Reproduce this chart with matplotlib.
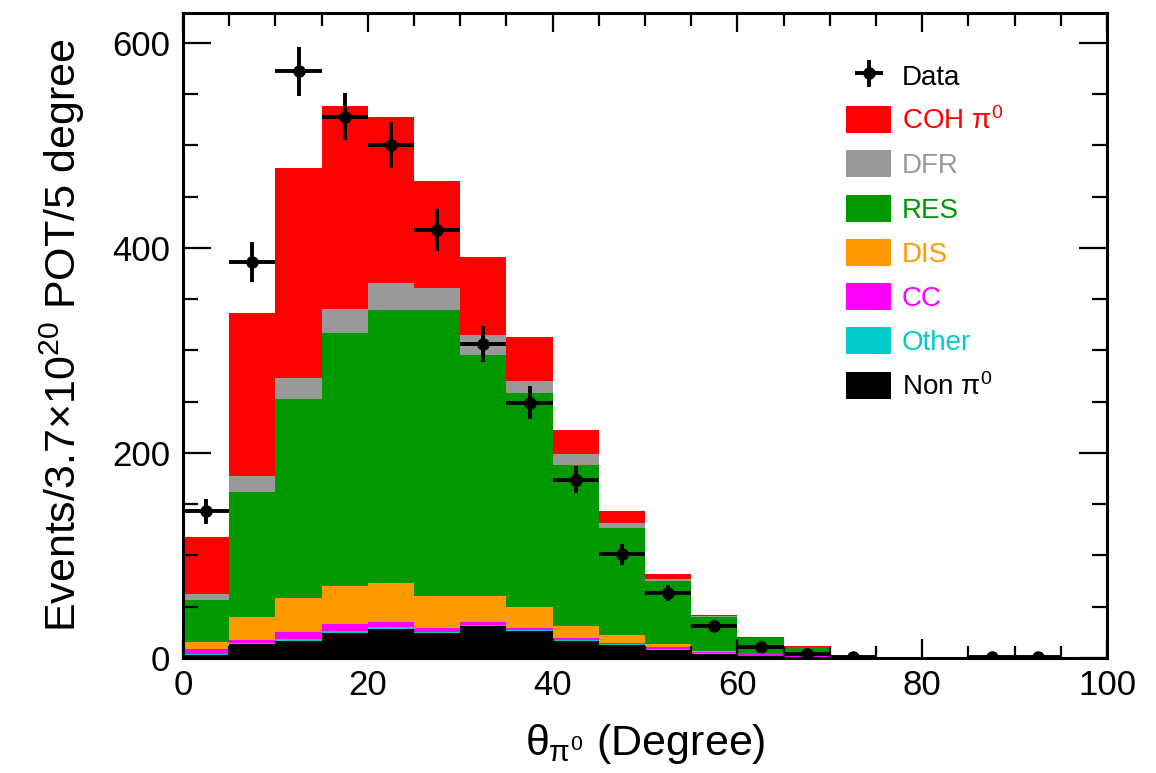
import numpy as np
import matplotlib
matplotlib.use("Agg")
import matplotlib.pyplot as plt
from matplotlib.patches import Patch

plt.rcParams['font.family'] = ['Liberation Sans', 'DejaVu Sans']
plt.rcParams['mathtext.fontset'] = 'custom'
plt.rcParams['mathtext.rm'] = 'Liberation Sans'
plt.rcParams['mathtext.it'] = 'Liberation Sans'
plt.rcParams['mathtext.bf'] = 'Liberation Sans:bold'

# 5-degree bins from 0 to 100
bin_edges = np.arange(0, 105, 5)
bin_centers = bin_edges[:-1] + 2.5

# MC components, bottom of the stack first
non_pi0 = [3, 14, 17, 24, 28, 24, 31, 26, 17, 13, 8, 4, 2, 1, 0.2, 0, 0, 0, 0, 0]
other = [0.5, 1, 2, 2, 2, 1, 1, 1, 0.5, 0.5, 0.5, 0.5, 0.3, 0.2, 0.1, 0, 0, 0, 0, 0]
cc = [5.5, 3, 6.5, 7, 5, 4, 3, 2.5, 1.7, 1.5, 2.5, 1.5, 2.2, 0.8, 0.1, 0, 0, 0, 0, 0]
dis = [7, 22.3, 32.7, 37.2, 37.9, 31.5, 25.5, 19.9, 12.3, 7.4, 2.7, 1.2, 0.5, 0.5, 0.1, 0, 0, 0, 0, 0]
res = [41, 121.3, 194.5, 246.6, 266.6, 279, 235.1, 209.4, 156.8, 104.1, 61.3, 32.5, 14.2, 8.5, 0.3, 0, 0, 0, 0, 0]
dfr = [5, 15.4, 20.8, 23.2, 26, 21.2, 19.4, 11.8, 10.4, 4.9, 1.7, 0.8, 0.3, 0.2, 0.05, 0, 0, 0, 0, 0]
coh = [56, 159.6, 204.2, 198.5, 162.5, 104, 76.5, 42.3, 23.7, 12, 4.9, 1.5, 0.5, 0.3, 0.05, 0, 0, 0, 0, 0]

data = [143, 386, 572, 528, 500, 417, 306, 249, 174, 101, 63, 31, 11, 4, 1, 0, 0, 1, 1, 0]
data_err = [12, 19.6, 23.9, 23, 22.4, 20.4, 17.5, 15.8, 13.2, 10, 7.9, 5.6, 3.3, 2, 1, 0, 0, 1, 1, 0]

components = [
    (non_pi0, 'black', r'Non $\pi^0$'),
    (other, '#00cccc', 'Other'),
    (cc, '#ff00ff', 'CC'),
    (dis, '#ff9900', 'DIS'),
    (res, '#009900', 'RES'),
    (dfr, '#999999', 'DFR'),
    (coh, '#ff0000', r'COH $\pi^0$'),
]

fig = plt.figure(figsize=(11.56, 7.73), dpi=100)
ax = fig.add_axes([183 / 1156, 1 - 658 / 773, 924 / 1156, 645 / 773])

bottom = np.zeros(len(bin_centers))
handles = {}
for vals, color, label in components:
    vals = np.array(vals, dtype=float)
    ax.bar(bin_edges[:-1], vals, width=5, bottom=bottom, align='edge',
           color=color, linewidth=0)
    handles[label] = Patch(facecolor=color, edgecolor='none')
    bottom += vals

data = np.array(data, dtype=float)
data_err = np.array(data_err, dtype=float)
mask = data > 0
eb = ax.errorbar(bin_centers[mask], data[mask], xerr=2.5, yerr=data_err[mask],
                 fmt='o', color='black', ms=8, elinewidth=2.8, capsize=0, zorder=5)

ax.set_xlim(0, 100)
ax.set_ylim(0, 629)
ax.set_xticks(np.arange(0, 101, 20))
ax.set_xticks(np.arange(0, 101, 5), minor=True)
ax.set_yticks(np.arange(0, 601, 200))
ax.set_yticks(np.arange(0, 601, 50), minor=True)
ax.tick_params(axis='both', which='both', direction='in', top=True, right=True,
               labelsize=25, width=1.6)
ax.tick_params(axis='y', which='major', length=20, pad=9)
ax.tick_params(axis='y', which='minor', length=11)
ax.tick_params(axis='x', which='major', length=14, pad=8)
ax.tick_params(axis='x', which='minor', length=9)
for sp in ax.spines.values():
    sp.set_linewidth(2.2)

ax.set_xlabel(r'$\theta_{\pi^0}$ (Degree)', fontsize=31, labelpad=14)
ax.set_ylabel(r'Events/3.7×10$^{20}$ POT/5 degree', fontsize=31, labelpad=18)

order = ['Data', r'COH $\pi^0$', 'DFR', 'RES', 'DIS', 'CC', 'Other', r'Non $\pi^0$']
text_colors = ['black', '#ff0000', '#999999', '#009900', '#ff9900', '#ff00ff',
               '#00cccc', 'black']
leg_handles = [eb] + [handles[k] for k in order[1:]]
leg = ax.legend(leg_handles, order, loc='upper left', bbox_to_anchor=(0.718, 0.924),
                frameon=False, fontsize=20, handlelength=1.62, handleheight=1.12,
                handletextpad=0.38, labelspacing=0.55, borderpad=0, borderaxespad=0)
for t, c in zip(leg.get_texts(), text_colors):
    t.set_color(c)

fig.savefig('out.png', dpi=100)
